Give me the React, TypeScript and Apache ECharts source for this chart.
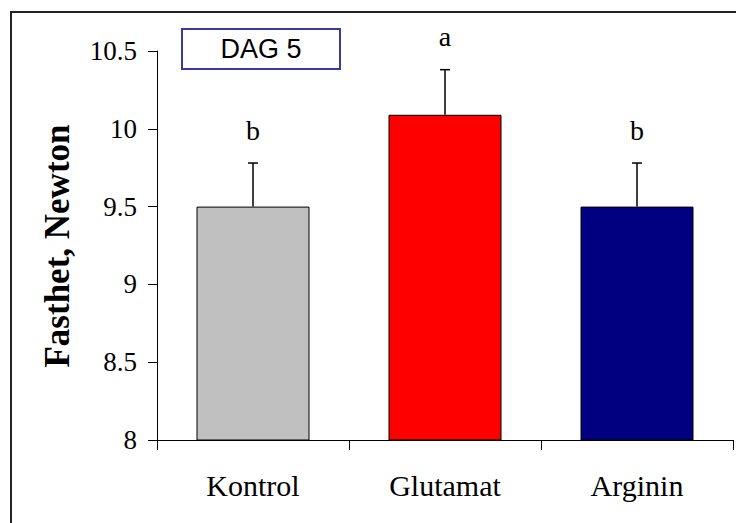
import React, { useEffect, useRef } from "react";
import * as echarts from "echarts";

const categories = ["Kontrol", "Glutamat", "Arginin"];
const means = [9.5, 10.09, 9.5];
const errors = [0.28, 0.29, 0.28];
const letters = ["b", "a", "b"];
const barColors = ["#C0C0C0", "#FF0000", "#000080"];
const yTicks = { min: 8, max: 10.5, interval: 0.5 };
const panelLabel = "DAG 5";
const yTitle = "Fasthet, Newton";

const SERIF = "Liberation Serif";

export default function App() {
  const ref = useRef<HTMLDivElement>(null);
  useEffect(() => {
    if (!ref.current) return;
    const chart = echarts.init(ref.current, undefined, { renderer: "svg" });
    const option: any = {
      animation: false,
      backgroundColor: "#ffffff",
      textStyle: { fontFamily: SERIF, color: "#000" },
      grid: { left: 157, right: 3, top: 51, bottom: 83, containLabel: false },
      xAxis: {
        type: "category",
        data: categories,
        boundaryGap: true,
        axisLine: { lineStyle: { color: "#000", width: 1 } },
        axisTick: { show: true, length: 10, inside: false, lineStyle: { color: "#000" } },
        axisLabel: {
          color: "#000",
          fontFamily: SERIF,
          fontSize: 30,
          margin: 30,
        },
        splitLine: { show: false },
      },
      yAxis: {
        type: "value",
        min: yTicks.min,
        max: yTicks.max,
        interval: yTicks.interval,
        axisLine: { show: true, lineStyle: { color: "#000", width: 1 } },
        axisTick: { show: true, length: 9, lineStyle: { color: "#000" } },
        axisLabel: {
          color: "#000",
          fontFamily: SERIF,
          fontSize: 27,
          margin: 20,
          formatter: (v: number) => String(v),
        },
        splitLine: { show: false },
      },
      series: [
        {
          type: "bar",
          data: means.map((m, i) => ({
            value: m,
            itemStyle: { color: barColors[i], borderColor: "#000", borderWidth: 1 },
          })),
          barWidth: 113,
        },
        {
          type: "custom",
          data: means.map((m, i) => [i, m, m + errors[i]]),
          renderItem: (params: any, api: any) => {
            const i = api.value(0);
            const lo = api.coord([i, api.value(1)]);
            const hi = api.coord([i, api.value(2)]);
            const idx = params.dataIndex;
            return {
              type: "group",
              children: [
                {
                  type: "line",
                  shape: { x1: lo[0], y1: lo[1], x2: hi[0], y2: hi[1] },
                  style: { stroke: "#000", lineWidth: 1.5 },
                },
                {
                  type: "line",
                  shape: { x1: hi[0] - 5, y1: hi[1], x2: hi[0] + 5, y2: hi[1] },
                  style: { stroke: "#000", lineWidth: 1.5 },
                },
                {
                  type: "text",
                  x: hi[0],
                  y: hi[1] - 33,
                  style: {
                    text: letters[idx],
                    fill: "#000",
                    fontFamily: SERIF,
                    fontSize: 28,
                    align: "center",
                    verticalAlign: "middle",
                  },
                },
              ],
            };
          },
          z: 5,
        },
      ],
      graphic: [
        {
          type: "rect",
          shape: { x: 11, y: 12, width: 800, height: 600 },
          style: { fill: "none", stroke: "#222", lineWidth: 2 },
          silent: true,
        },
        {
          type: "rect",
          shape: { x: 182, y: 29, width: 158, height: 40 },
          style: { fill: "#fff", stroke: "#3a3a9a", lineWidth: 2 },
          z: 10,
        },
        {
          type: "text",
          x: 261,
          y: 49,
          style: {
            text: panelLabel,
            fill: "#000",
            fontFamily: "Liberation Sans",
            fontSize: 27,
            align: "center",
            verticalAlign: "middle",
          },
          z: 11,
        },
        {
          type: "text",
          x: 57,
          y: 246,
          rotation: Math.PI / 2,
          style: {
            text: yTitle,
            fill: "#000",
            fontFamily: SERIF,
            fontWeight: "bold",
            fontSize: 35,
            align: "center",
            verticalAlign: "middle",
          },
        },
      ],
    };
    chart.setOption(option);
    return () => chart.dispose();
  }, []);
  return (
    <div
      ref={ref}
      style={{ position: "fixed", left: 0, top: 0, width: 736, height: 523 }}
    />
  );
}
